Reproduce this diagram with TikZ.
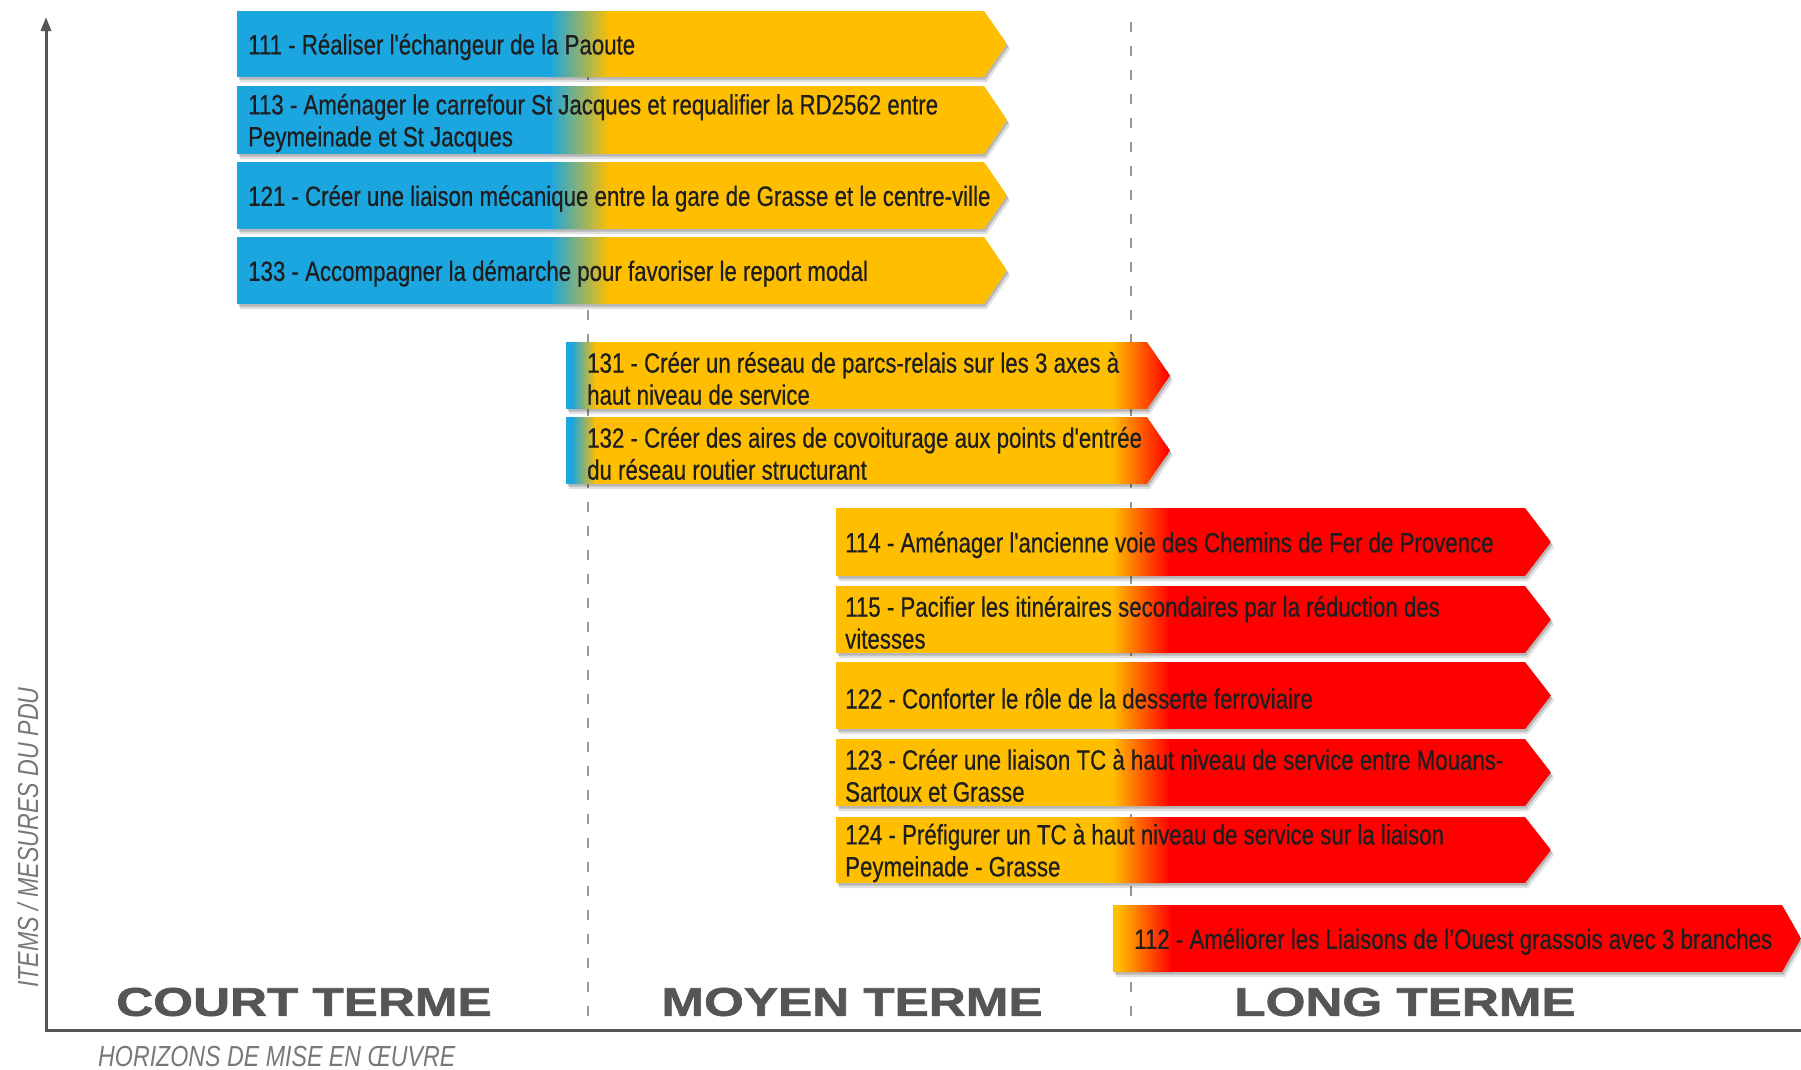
\documentclass[tikz,border=0pt]{standalone}
\usepackage{fontspec}
\setmainfont{Liberation Sans}
\newfontfamily\condfont{Liberation Sans}[FakeStretch=0.795, FakeBold=0.5]
\newfontfamily\labfont{Liberation Sans}[FakeStretch=0.8]
\newfontfamily\termfont{Liberation Sans}[FakeStretch=1.28, FakeBold=1.6]
\usetikzlibrary{arrows.meta}
\definecolor{cblue}{RGB}{27,166,224}
\definecolor{cyellow}{RGB}{255,190,0}
\definecolor{cred}{RGB}{255,0,0}
\definecolor{axisgray}{RGB}{85,85,85}
\definecolor{dashgray}{RGB}{150,150,150}
\definecolor{txtdark}{RGB}{30,30,30}
\definecolor{labgray}{RGB}{120,120,120}
\tikzset{
  item/.style={font=\condfont\fontsize{28}{32}\selectfont, text=txtdark, align=left, inner sep=0pt, anchor=west},
  term/.style={font=\termfont\bfseries\fontsize{40}{40}\selectfont, text=axisgray, inner sep=0pt},
  axlab/.style={font=\labfont\itshape\fontsize{29}{29}\selectfont, text=labgray, inner sep=0pt},
  axisline/.style={draw=axisgray, line width=3pt},
  divline/.style={draw=dashgray, line width=2.5pt, dash pattern=on 10pt off 14pt},
}
% one measure bar: #1 name, #2 top y, #3 bottom y, #4 text
\newcommand\mesure[4]{%
  \pgfmathsetmacro\ymid{(#2+#3)/2}%
  \pgfmathsetmacro\ytxt{(#2+#3)/2+3}%
  \begin{scope}[shift={(3,5)}]
    \fill[black,opacity=0.12] (\gxa,#2) -- (\gxr,#2) -- (\gxt,\ymid) -- (\gxr,#3) -- (\gxa,#3) -- cycle;
  \end{scope}
  \begin{scope}[shift={(1.5,2.5)}]
    \fill[black,opacity=0.18] (\gxa,#2) -- (\gxr,#2) -- (\gxt,\ymid) -- (\gxr,#3) -- (\gxa,#3) -- cycle;
  \end{scope}
  \begin{scope}
    \clip (\gxa,#2) -- (\gxr,#2) -- (\gxt,\ymid) -- (\gxr,#3) -- (\gxa,#3) -- cycle;
    \gfill{#2}{#3}
  \end{scope}
  \node[item] (#1) at (\gtx,\ytxt) {#4};
}
\begin{document}
\begin{tikzpicture}[x=1pt,y=-1pt]
\useasboundingbox (0,0) rectangle (1801,1069);
\fill[white] (0,0) rectangle (1801,1069);

% horizon dividers
\coordinate (d1t) at (588,22);  \coordinate (d1b) at (588,1030);
\coordinate (d2t) at (1131,22); \coordinate (d2b) at (1131,1030);
\draw[divline] (d1t) -- (d1b);
\draw[divline] (d2t) -- (d2b);

% group 1 : court terme
\def\gxa{237}\def\gxr{984}\def\gxt{1007}\def\gtx{248}
\def\gfill#1#2{%
  \fill[cblue] (\gxa,#1) rectangle (551,#2);
  \shade[left color=cblue,right color=cyellow] (550,#1) rectangle (610,#2);
  \fill[cyellow] (609,#1) rectangle (\gxt,#2);}
\mesure{m111}{11}{77}{111 - Réaliser l'échangeur de la Paoute}
\mesure{m113}{86}{154}{113 - Aménager le carrefour St Jacques et requalifier la RD2562 entre\\Peymeinade et St Jacques}
\mesure{m121}{162}{229}{121 - Créer une liaison mécanique entre la gare de Grasse et le centre-ville}
\mesure{m133}{237}{304}{133 - Accompagner la démarche pour favoriser le report modal}

% group 2
\def\gxa{566}\def\gxr{1147}\def\gxt{1170}\def\gtx{587}
\def\gfill#1#2{%
  \fill[cblue] (\gxa,#1) rectangle (573,#2);
  \shade[left color=cblue,right color=cyellow] (572,#1) rectangle (596,#2);
  \fill[cyellow] (595,#1) rectangle (1113,#2);
  \shade[left color=cyellow,right color=cred] (1112,#1) rectangle (1168,#2);
  \fill[cred] (1167,#1) rectangle (\gxt,#2);}
\mesure{m131}{342}{409}{131 - Créer un réseau de parcs-relais sur les 3 axes à\\haut niveau de service}
\mesure{m132}{417}{484}{132 - Créer des aires de covoiturage aux points d'entrée\\du réseau routier structurant}

% group 3
\def\gxa{836}\def\gxr{1525}\def\gxt{1551}\def\gtx{845}
\def\gfill#1#2{%
  \fill[cyellow] (\gxa,#1) rectangle (1113,#2);
  \shade[left color=cyellow,right color=cred] (1112,#1) rectangle (1170,#2);
  \fill[cred] (1169,#1) rectangle (\gxt,#2);}
\mesure{m114}{508}{576}{114 - Aménager l'ancienne voie des Chemins de Fer de Provence}
\mesure{m115}{586}{653}{115 - Pacifier les itinéraires secondaires par la réduction des\\vitesses}
\mesure{m122}{662}{729}{122 - Conforter le rôle de la desserte ferroviaire}
\mesure{m123}{739}{806}{123 - Créer une liaison TC à haut niveau de service entre Mouans-\\Sartoux et Grasse}
\mesure{m124}{817}{883}{124 - Préfigurer un TC à haut niveau de service sur la liaison\\Peymeinade - Grasse}

% group 4
\def\gxa{1113}\def\gxr{1782}\def\gxt{1801}\def\gtx{1134}
\def\gfill#1#2{%
  \fill[cyellow] (\gxa,#1) rectangle (1119,#2);
  \shade[left color=cyellow,right color=cred] (1118,#1) rectangle (1172,#2);
  \fill[cred] (1171,#1) rectangle (\gxt,#2);}
\mesure{m112}{905}{972}{112 - Améliorer les Liaisons de l’Ouest grassois avec 3 branches}

% axes
\coordinate (O) at (46,1030);
\coordinate (ytop) at (46,17);
\coordinate (xend) at (1801,1030);
\draw[axisline, -{Triangle[length=14pt,width=10pt]}] (xend) -- (O) -- (ytop);

% horizon labels
\node[term] (court) at (304,1002) {COURT TERME};
\node[term] (moyen) at (852,1002) {MOYEN TERME};
\node[term] (long) at (1405,1002) {LONG TERME};

% axis titles
\node[axlab, rotate=90, anchor=base west] (ylab) at (38,988) {ITEMS / MESURES DU PDU};
\node[axlab, anchor=base west] (xlab) at (98,1066) {HORIZONS DE MISE EN ŒUVRE};
\end{tikzpicture}
\end{document}
